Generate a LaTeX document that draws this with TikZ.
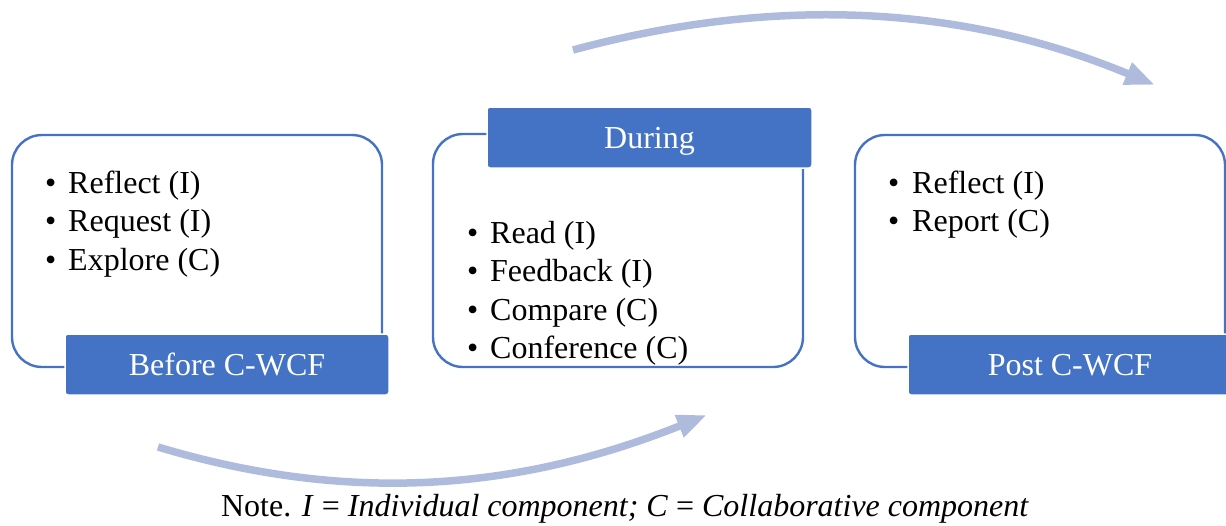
\documentclass[tikz,border=0pt]{standalone}
\usepackage{fontspec}
\setmainfont{Liberation Serif}
\usetikzlibrary{arrows.meta}
\definecolor{accent}{HTML}{4472C4}
\definecolor{flow}{RGB}{174,187,221}
\begin{document}
\begin{tikzpicture}[x=1pt,y=-1pt,
  frame/.style={draw=accent, line width=2.4pt, rounded corners=30pt,
    minimum width=370pt, minimum height=232pt, inner sep=0pt},
  tab/.style={fill=accent, draw=white, line width=1.5pt, rounded corners=3pt,
    minimum width=324pt, minimum height=61pt, inner sep=0pt,
    text=white, font=\fontsize{32}{38.5}\selectfont,
    text height=22pt, text depth=0pt},
  item/.style={font=\fontsize{32}{38.5}\selectfont, inner sep=0pt, anchor=base west},
  flowarrow/.style={draw=flow, line width=7.5pt,
    -{Triangle[length=30pt,width=22pt]}}]
\useasboundingbox (0,0) rectangle (1226,525);

% curved flow arrows
\coordinate (ta) at (573,50);
\coordinate (tb) at (1155,85);
\coordinate (ba) at (158,447);
\coordinate (bb) at (707,415);
\draw[flowarrow] (ta) .. controls (773,-4) and (960,4) .. (tb);
\draw[flowarrow] (ba) .. controls (338,501) and (507,495) .. (bb);

% stage frames
\node[frame] (before) at (197,251) {};
\node[frame, minimum height=233pt] (during) at (618,250.5) {};
\node[frame] (post) at (1040,251) {};

% stage tabs
\node[tab] (beforetab) at (227,364.5) {Before C-WCF};
\node[tab, minimum width=325pt] (duringtab) at (649.5,137.5) {During};
\node[tab] (posttab) at (1070,364.5) {Post C-WCF};

% activities before
\node[item] (b1) at (45,193) {•};
\node[item] (b1t) at (68,193) {Reflect (I)};
\node[item] (b2) at (45,231.5) {•};
\node[item] (b2t) at (68,231.5) {Request (I)};
\node[item] (b3) at (45,270) {•};
\node[item] (b3t) at (68,270) {Explore (C)};

% activities during
\node[item] (d1) at (467,243) {•};
\node[item] (d1t) at (490,243) {Read (I)};
\node[item] (d2) at (467,281.5) {•};
\node[item] (d2t) at (490,281.5) {Feedback (I)};
\node[item] (d3) at (467,320) {•};
\node[item] (d3t) at (490,320) {Compare (C)};
\node[item] (d4) at (467,358.5) {•};
\node[item] (d4t) at (490,358.5) {Conference (C)};

% activities after
\node[item] (p1) at (888,193) {•};
\node[item] (p1t) at (912,193) {Reflect (I)};
\node[item] (p2) at (888,231.5) {•};
\node[item] (p2t) at (912,231.5) {Report (C)};

% note
\node[font=\fontsize{32}{38.5}\selectfont, inner sep=0pt, anchor=base] (note) at (625,516)
  {Note. \textit{I} = \textit{Individual component; C} = \textit{Collaborative component}};
\end{tikzpicture}
\end{document}
